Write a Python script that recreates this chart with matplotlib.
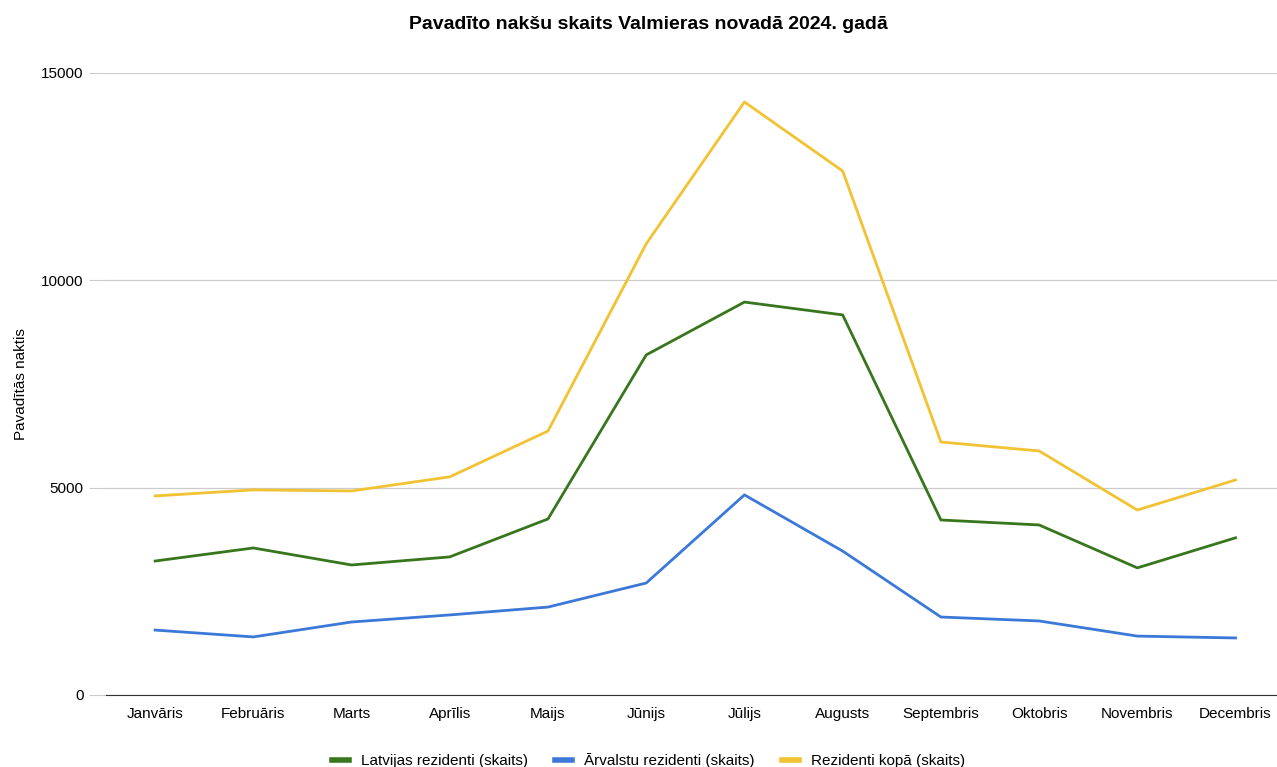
import matplotlib.pyplot as plt
from matplotlib.lines import Line2D

plt.rcParams['font.family'] = ['Liberation Sans', 'DejaVu Sans']

menesi = ["Janvāris", "Februāris", "Marts", "Aprīlis", "Maijs", "Jūnijs",
          "Jūlijs", "Augusts", "Septembris", "Oktobris", "Novembris", "Decembris"]
latvijas = [3230, 3545, 3135, 3330, 4245, 8200, 9475, 9165, 4220, 4100, 3065, 3790]
arvalstu = [1565, 1400, 1760, 1930, 2120, 2700, 4825, 3470, 1880, 1785, 1420, 1375]
kopa = [4800, 4945, 4920, 5260, 6365, 10880, 14300, 12635, 6100, 5885, 4460, 5185]

serijas = [
    ("Latvijas rezidenti (skaits)", latvijas, "#38761d"),
    ("Ārvalstu rezidenti (skaits)", arvalstu, "#3c78d8"),
    ("Rezidenti kopā (skaits)", kopa, "#f1c232"),
]

fig = plt.figure(figsize=(12.77, 7.67), dpi=100)
ax = fig.add_axes([0.083, 0.0939, 0.923, 0.811])

x = range(len(menesi))
for nosaukums, vertibas, krasa in serijas:
    ax.plot(x, vertibas, color=krasa, linewidth=2.0, label=nosaukums)

ax.set_xlim(-0.5, len(menesi) - 0.5)
ax.set_ylim(0, 15000)
ax.set_yticks([0, 5000, 10000, 15000])
ax.set_xticks(list(x))
ax.set_xticklabels(menesi)
ax.grid(axis='y', color='#cccccc', linewidth=0.9)
ax.set_axisbelow(True)
for s in ['top', 'right', 'left']:
    ax.spines[s].set_visible(False)
ax.spines['bottom'].set_color('#333333')
ax.tick_params(axis='y', length=12, color='#cccccc', labelsize=11, pad=4)
ax.tick_params(axis='x', length=0, labelsize=11, pad=9)
ax.set_ylabel("Pavadītās naktis", fontsize=11)
ax.yaxis.set_label_coords(-0.066, 0.5)

fig.text(0.508, 0.968, "Pavadīto nakšu skaits Valmieras novadā 2024. gadā",
         ha='center', va='center', fontsize=14, fontweight='bold')

handles = [Line2D([0], [0], color=c, linewidth=4) for _, _, c in serijas]
fig.legend(handles, [n for n, _, _ in serijas], loc='center', ncol=3,
           bbox_to_anchor=(0.508, 0.008), frameon=False, fontsize=11,
           handlelength=1.1, columnspacing=1.8, handletextpad=0.8)

fig.savefig("out.png", dpi=100)
